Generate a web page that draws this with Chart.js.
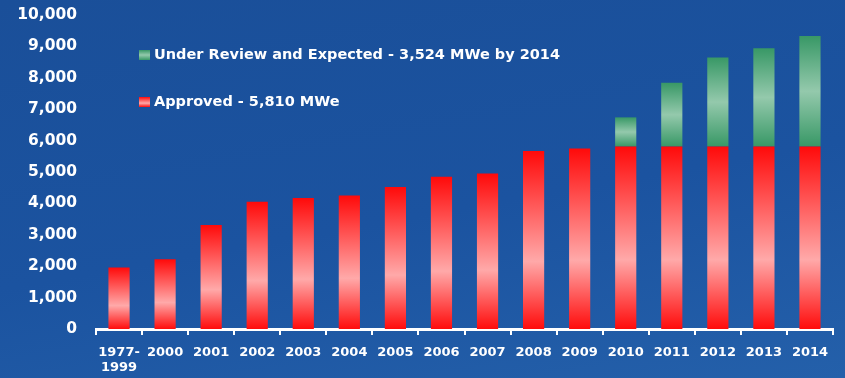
<!DOCTYPE html>
<html>
<head>
<meta charset="utf-8">
<script src="https://cdn.jsdelivr.net/npm/chart.js@4/dist/chart.umd.min.js"></script>
<style>
  html, body { margin: 0; padding: 0; }
  body {
    width: 845px; height: 378px; overflow: hidden;
    background: linear-gradient(170deg, #1a4f99 0%, #1b53a0 55%, #2460aa 100%);
  }
  #wrap { position: relative; width: 845px; height: 378px; }
</style>
</head>
<body>
<div id="wrap"><canvas id="myChart" width="845" height="378"></canvas></div>
<script>
var years = [['1977-', '1999'], '2000', '2001', '2002', '2003', '2004', '2005', '2006',
             '2007', '2008', '2009', '2010', '2011', '2012', '2013', '2014'];
var approved = [1960, 2220, 3310, 4050, 4170, 4250, 4520, 4850,
                4950, 5670, 5750, 5810, 5810, 5810, 5810, 5810];
var underReview = [0, 0, 0, 0, 0, 0, 0, 0,
                   0, 0, 0, 930, 2030, 2840, 3130, 3524];
var seriesNames = ['Approved - 5,810 MWe', 'Under Review and Expected - 3,524 MWe by 2014'];

var redStops = [[0, '#ff0a0a'], [0.62, '#ffa9a9'], [1, '#ff0c0c']];
var greenStops = [[0, '#389866'], [0.5, '#94c9ac'], [1, '#389866']];

// gradient runs top to bottom inside each bar segment
function barFill(stops) {
    return function(ctx) {
        var chart = ctx.chart;
        var y = chart.scales.y;
        if (ctx.dataIndex === undefined || !y) return stops[0][1];
        var base = 0;
        for (var d = 0; d < ctx.datasetIndex; d++) {
            base += chart.data.datasets[d].data[ctx.dataIndex] || 0;
        }
        var top = base + (ctx.raw || 0);
        var y0 = y.getPixelForValue(top);
        var y1 = y.getPixelForValue(base);
        if (!isFinite(y0) || !isFinite(y1) || y1 - y0 < 1) return stops[0][1];
        var g = chart.ctx.createLinearGradient(0, y0, 0, y1);
        stops.forEach(function(s) { g.addColorStop(s[0], s[1]); });
        return g;
    };
}

var legendItems = [
    { text: seriesNames[1], stops: greenStops, y: 55 },
    { text: seriesNames[0], stops: redStops, y: 102 }
];

var slideLegend = {
    id: 'slideLegend',
    afterDraw: function(chart) {
        var c = chart.ctx;
        c.save();
        legendItems.forEach(function(it) {
            var g = c.createLinearGradient(0, it.y - 5, 0, it.y + 5);
            it.stops.forEach(function(s) { g.addColorStop(s[0], s[1]); });
            c.fillStyle = g;
            c.fillRect(139, it.y - 5, 11, 10);
            c.fillStyle = '#ffffff';
            c.font = 'bold 14.5px "DejaVu Sans"';
            c.textBaseline = 'middle';
            c.fillText(it.text, 154, it.y);
        });
        c.restore();
    }
};

function draw() {
    var ctx = document.getElementById('myChart').getContext('2d');
    new Chart(ctx, {
        type: 'bar',
        data: {
            labels: years,
            datasets: [{
                label: seriesNames[0],
                data: approved,
                backgroundColor: barFill(redStops),
                borderWidth: 0
            }, {
                label: seriesNames[1],
                data: underReview,
                backgroundColor: barFill(greenStops),
                borderWidth: 0
            }]
        },
        options: {
            responsive: false,
            animation: false,
            events: [],
            layout: { padding: { top: 15, right: 12, left: 0, bottom: 0 } },
            datasets: { bar: { categoryPercentage: 1, barPercentage: 0.46 } },
            plugins: {
                legend: { display: false },
                tooltip: { enabled: false }
            },
            scales: {
                x: {
                    stacked: true,
                    afterFit: function(s) { s.height = 49; },
                    grid: {
                        display: true, offset: true, drawOnChartArea: false,
                        drawTicks: true, tickLength: 6, color: '#ffffff', lineWidth: 2
                    },
                    border: { display: true, color: '#ffffff', width: 3 },
                    ticks: {
                        color: '#ffffff', padding: 10, maxRotation: 0, autoSkip: false,
                        font: { family: 'DejaVu Sans', weight: 'bold', size: 13, lineHeight: 1.15 }
                    }
                },
                y: {
                    stacked: true,
                    min: 0, max: 10000,
                    afterFit: function(s) {
                        s.width = 96;
                        s.paddingTop = 0;
                        s.paddingBottom = 0;
                    },
                    grid: { display: false, drawTicks: false },
                    border: { display: false },
                    ticks: {
                        stepSize: 1000, color: '#ffffff', padding: 19,
                        font: { family: 'DejaVu Sans', weight: 'bold', size: 15.5 },
                        callback: function(v) { return v.toLocaleString('en-US'); }
                    }
                }
            }
        },
        plugins: [slideLegend]
    });
}
draw();
</script>
</body>
</html>
